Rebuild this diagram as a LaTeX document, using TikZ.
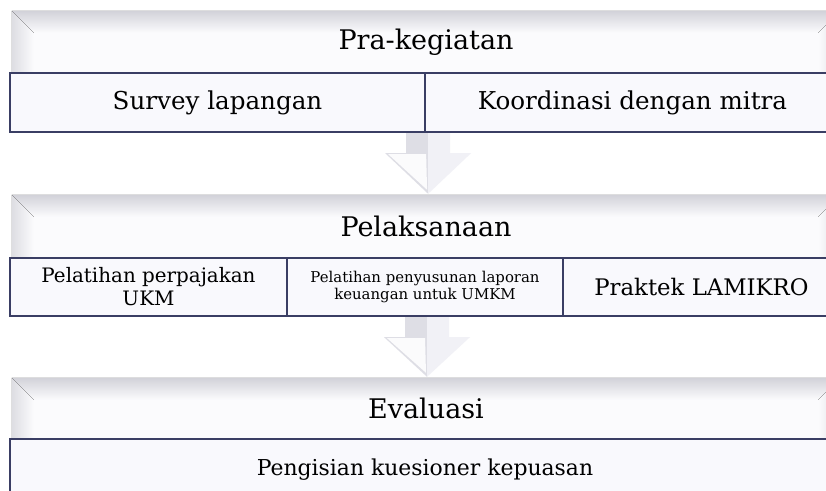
\documentclass[tikz,border=0pt]{standalone}
\usepackage{fontspec}
\setmainfont{DejaVu Serif}
\usetikzlibrary{calc}
\definecolor{navy}{RGB}{58,62,100}
\definecolor{face}{RGB}{251,251,253}
\definecolor{bev}{RGB}{210,210,217}
\definecolor{subfill}{RGB}{249,249,253}
\definecolor{arrdark}{RGB}{222,222,229}
\definecolor{arrlight}{RGB}{241,241,246}
\begin{document}
\begin{tikzpicture}[x=1pt,y=-1pt,
  head/.style={fill=face, minimum width=828pt, inner sep=0pt},
  headtext/.style={inner sep=0pt, font=\fontsize{27}{31}\selectfont},
  sub/.style={draw=navy, line width=2.2pt, fill=subfill, inner sep=0pt, align=center, font=\fontsize{24.6}{28}\selectfont},
  bevtop/.style={top color=bev, bottom color=face, draw=none},
  bevleft/.style={left color=bev!75, right color=face, draw=none},
  bevright/.style={right color=bev!75, left color=face, draw=none},
  arrL/.style={fill=arrdark, draw=none},
  arrR/.style={fill=arrlight, draw=none}]
\useasboundingbox (0,0) rectangle (826,490);
\clip (0,0) rectangle (826,490);
\fill[white] (0,0) rectangle (826,490);

% ---------- header 1
\node[head, minimum height=62pt] (h1) at (426,42) {};
\fill[bevtop] (h1.north west) -- (h1.north east) -- ($(h1.north east)+(-22,22)$) -- ($(h1.north west)+(22,22)$) -- cycle;
\fill[bevleft] (h1.north west) -- ($(h1.north west)+(22,22)$) -- ($(h1.south west)+(22,0)$) -- (h1.south west) -- cycle;
\fill[bevright] (h1.north east) -- ($(h1.north east)+(-22,22)$) -- ($(h1.south east)+(-22,0)$) -- (h1.south east) -- cycle;
\node[headtext] (h1t) at (h1.center) {Pra-kegiatan};

% ---------- row 1
\node[sub, minimum width=415pt, minimum height=59pt] (s11) at (217.5,102.5) {Survey lapangan};
\node[sub, minimum width=415pt, minimum height=59pt] (s12) at (632.5,102.5) {Koordinasi dengan mitra};

% ---------- header 2
\node[head, minimum height=63pt] (h2) at (426,226.5) {};
\fill[bevtop] (h2.north west) -- (h2.north east) -- ($(h2.north east)+(-22,22)$) -- ($(h2.north west)+(22,22)$) -- cycle;
\fill[bevleft] (h2.north west) -- ($(h2.north west)+(22,22)$) -- ($(h2.south west)+(22,0)$) -- (h2.south west) -- cycle;
\fill[bevright] (h2.north east) -- ($(h2.north east)+(-22,22)$) -- ($(h2.south east)+(-22,0)$) -- (h2.south east) -- cycle;
\node[headtext] (h2t) at (h2.center) {Pelaksanaan};

% ---------- arrow 1 (row 1 -> header 2)
\coordinate (a1) at ($(s11.south east)+(2,0)$);
\coordinate (t1) at ($(a1|-h2.north)+(0,-1)$);
\fill[arrL] ($(a1)+(-22,0)$) -- (a1) -- (t1) -- ($(a1)+(-43,20)$) -- ($(a1)+(-22,20)$) -- cycle;
\fill[arrR] (a1) -- ($(a1)+(22,0)$) -- ($(a1)+(22,20)$) -- ($(a1)+(43,20)$) -- (t1) -- cycle;
\fill[white!70!arrlight] ($(a1)+(-40,21)$) -- ($(a1)+(-2,21)$) -- ($(t1)+(-1,-4)$) -- cycle;

% ---------- row 2
\node[sub, minimum width=277pt, minimum height=58pt, font=\fontsize{19.9}{23}\selectfont] (s21) at (148.5,287) {Pelatihan perpajakan\\UKM};
\node[sub, minimum width=276pt, minimum height=58pt, font=\fontsize{14.9}{17.5}\selectfont] (s22) at (425,287) {Pelatihan penyusunan laporan\\keuangan untuk UMKM};
\node[sub, minimum width=277pt, minimum height=58pt, font=\fontsize{22.8}{26}\selectfont] (s23) at (701.5,287) {Praktek LAMIKRO};

% ---------- header 3
\node[head, minimum height=61pt] (h3) at (426,408.5) {};
\fill[bevtop] (h3.north west) -- (h3.north east) -- ($(h3.north east)+(-22,22)$) -- ($(h3.north west)+(22,22)$) -- cycle;
\fill[bevleft] (h3.north west) -- ($(h3.north west)+(22,22)$) -- ($(h3.south west)+(22,0)$) -- (h3.south west) -- cycle;
\fill[bevright] (h3.north east) -- ($(h3.north east)+(-22,22)$) -- ($(h3.south east)+(-22,0)$) -- (h3.south east) -- cycle;
\node[headtext] (h3t) at (h3.center) {Evaluasi};

% ---------- arrow 2 (row 2 -> header 3)
\coordinate (a2) at ($(s22.south)+(2,0)$);
\coordinate (t2) at ($(a2|-h3.north)+(0,-1)$);
\fill[arrL] ($(a2)+(-22,0)$) -- (a2) -- (t2) -- ($(a2)+(-43,20)$) -- ($(a2)+(-22,20)$) -- cycle;
\fill[arrR] (a2) -- ($(a2)+(22,0)$) -- ($(a2)+(22,20)$) -- ($(a2)+(43,20)$) -- (t2) -- cycle;
\fill[white!70!arrlight] ($(a2)+(-40,21)$) -- ($(a2)+(-2,21)$) -- ($(t2)+(-1,-4)$) -- cycle;

% ---------- row 3
\node[sub, minimum width=830pt, minimum height=62pt, font=\fontsize{21.9}{25}\selectfont] (s31) at (425,470) {Pengisian kuesioner kepuasan};
\end{tikzpicture}
\end{document}
